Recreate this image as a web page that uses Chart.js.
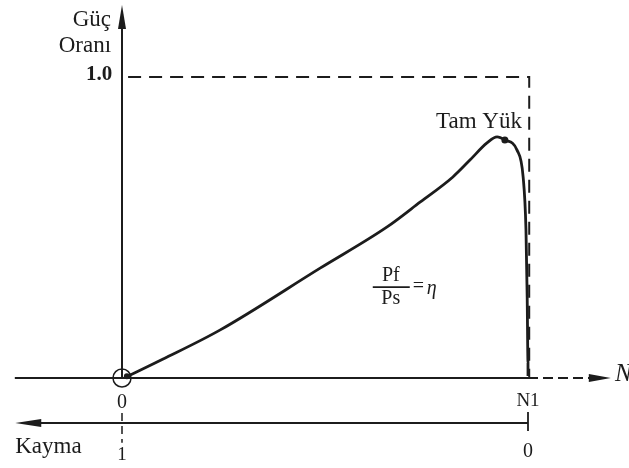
<!DOCTYPE html>
<html>
<head>
<meta charset="utf-8">
<script src="https://cdn.jsdelivr.net/npm/chart.js@4.4.1/dist/chart.umd.min.js"></script>
<style>
  html, body { margin: 0; padding: 0; background: #fff; overflow: hidden; }
</style>
</head>
<body>
<canvas id="powerChart" width="629" height="468"></canvas>
<script>
// güç oranı eğrisi (x: hız / N1, y: Pf/Ps)
const speedRatio = [0.015, 0.100, 0.241, 0.488, 0.653, 0.734, 0.815, 0.857, 0.899, 0.924, 0.943, 0.973, 0.988, 0.995, 0.998, 1.000, 1.000];
const powerRatio = [0.006, 0.062, 0.159, 0.365, 0.502, 0.584, 0.668, 0.724, 0.781, 0.801, 0.791, 0.757, 0.668, 0.492, 0.269, 0.050, 0.007];
const fullLoadIndex = 10;

// eksen etiketleri
const yAxisTitle = ['Güç', 'Oranı'];
const yTickLabel = '1.0';
const fullLoadLabel = 'Tam Yük';
const speedLabels = ['0', 'N1'];
const slipLabels = ['1', '0'];
const slipTitle = 'Kayma';
const speedAxisName = 'N';

const INK = '#1c1c1c';
const SERIF = '"Liberation Serif", "Times New Roman", serif';

function line(points, extra) {
  return Object.assign({
    data: points,
    showLine: true,
    borderColor: INK,
    borderWidth: 2,
    pointRadius: 0,
    fill: false
  }, extra || {});
}

const curve = speedRatio.map((x, i) => ({ x: x, y: powerRatio[i] }));

const datasets = [
  line(curve, { borderWidth: 2.8, cubicInterpolationMode: 'monotone' }),
  // tam yük noktası
  line([curve[fullLoadIndex]], { showLine: false, pointRadius: 3.5, pointBackgroundColor: INK, pointBorderWidth: 0 }),
  // orijin dairesi
  line([{ x: 0, y: 0 }], { showLine: false, pointRadius: 9, pointBackgroundColor: 'rgba(0,0,0,0)', pointBorderColor: INK, pointBorderWidth: 1.5 }),
  line([{ x: 0.012, y: 0.006 }], { showLine: false, pointRadius: 3, pointBackgroundColor: INK, pointBorderWidth: 0 }),
  // dikey eksen
  line([{ x: 0, y: 0 }, { x: 0, y: 1.2 }], { arrow: { tipY: 1.239, len: 24, half: 4 } }),
  // yatay eksen
  line([{ x: -0.264, y: 0 }, { x: 1, y: 0 }]),
  line([{ x: 1.0, y: 0 }, { x: 1.16, y: 0 }], { borderDash: [10, 5], arrow: { tipX: 1.204, len: 22, half: 4 } }),
  // 1.0 sınırı
  line([{ x: 0.015, y: 1 }, { x: 1.003, y: 1 }, { x: 1.003, y: 0 }], { borderDash: [13, 8], borderWidth: 2 }),
  // kayma ekseni
  line([{ x: 1, y: -0.1495 }, { x: -0.2, y: -0.1495 }], { borderWidth: 1.8, arrow: { tipX: -0.263, len: 26, half: 4 } }),
  line([{ x: 1, y: -0.113 }, { x: 1, y: -0.176 }], { borderWidth: 1.8 }),
  line([{ x: 0, y: -0.116 }, { x: 0, y: -0.215 }], { borderWidth: 1.5, borderDash: [8, 5] })
];

const texts = [
  { t: yAxisTitle[0], x: -0.027, y: 1.190, size: 23, align: 'right' },
  { t: yAxisTitle[1], x: -0.027, y: 1.103, size: 23, align: 'right' },
  { t: yTickLabel, x: -0.024, y: 1.008, size: 21, align: 'right', weight: 'bold' },
  { t: fullLoadLabel, x: 0.985, y: 0.850, size: 23, align: 'right' },
  { t: speedLabels[0], x: 0, y: -0.083, size: 20, align: 'center' },
  { t: speedLabels[1], x: 1.0, y: -0.076, size: 19, align: 'center' },
  { t: slipTitle, x: -0.263, y: -0.229, size: 23, align: 'left' },
  { t: slipLabels[0], x: 0, y: -0.256, size: 19, align: 'center' },
  { t: slipLabels[1], x: 1.0, y: -0.246, size: 20, align: 'center' },
  { t: speedAxisName, x: 1.214, y: 0.013, size: 25, align: 'left', style: 'italic' }
];

const arrowPlugin = {
  id: 'arrows',
  afterDatasetsDraw(chart) {
    const ctx = chart.ctx, sx = chart.scales.x, sy = chart.scales.y;
    chart.data.datasets.forEach(ds => {
      if (!ds.arrow) return;
      const pts = ds.data;
      const last = pts[pts.length - 1], prev = pts[pts.length - 2];
      const tx = sx.getPixelForValue(ds.arrow.tipX !== undefined ? ds.arrow.tipX : last.x);
      const ty = sy.getPixelForValue(ds.arrow.tipY !== undefined ? ds.arrow.tipY : last.y);
      const px = sx.getPixelForValue(prev.x), py = sy.getPixelForValue(prev.y);
      const a = Math.atan2(ty - py, tx - px);
      const bx = tx - Math.cos(a) * ds.arrow.len, by = ty - Math.sin(a) * ds.arrow.len;
      ctx.save();
      ctx.fillStyle = INK;
      ctx.strokeStyle = INK;
      ctx.lineWidth = ds.borderWidth;
      ctx.beginPath();
      ctx.moveTo(sx.getPixelForValue(last.x), sy.getPixelForValue(last.y));
      ctx.lineTo(bx, by);
      ctx.stroke();
      ctx.beginPath();
      ctx.moveTo(tx, ty);
      ctx.lineTo(bx - Math.sin(a) * ds.arrow.half, by + Math.cos(a) * ds.arrow.half);
      ctx.lineTo(bx + Math.sin(a) * ds.arrow.half, by - Math.cos(a) * ds.arrow.half);
      ctx.closePath();
      ctx.fill();
      ctx.restore();
    });
  }
};

const textPlugin = {
  id: 'labels',
  afterDraw(chart) {
    const ctx = chart.ctx, sx = chart.scales.x, sy = chart.scales.y;
    ctx.save();
    ctx.fillStyle = INK;
    ctx.textBaseline = 'middle';
    texts.forEach(o => {
      ctx.font = (o.style || 'normal') + ' ' + (o.weight || 'normal') + ' ' + o.size + 'px ' + SERIF;
      ctx.textAlign = o.align;
      ctx.fillText(o.t, sx.getPixelForValue(o.x), sy.getPixelForValue(o.y));
    });

    // Pf / Ps = η
    const cx = sx.getPixelForValue(0.662), cy = sy.getPixelForValue(0.302);
    ctx.font = '20px ' + SERIF;
    ctx.textAlign = 'center';
    ctx.fillText('Pf', cx, cy - 11);
    ctx.fillText('Ps', cx, cy + 12);
    ctx.lineWidth = 1.6;
    ctx.strokeStyle = INK;
    ctx.beginPath();
    ctx.moveTo(cx - 18, cy);
    ctx.lineTo(cx + 19, cy);
    ctx.stroke();
    ctx.textAlign = 'left';
    ctx.fillText('=', cx + 22, cy);
    ctx.font = 'italic 20px ' + SERIF;
    ctx.fillText('η', cx + 36, cy + 2);
    ctx.restore();
  }
};

const canvas = document.getElementById('powerChart');
new Chart(canvas.getContext('2d'), {
  type: 'scatter',
  data: { datasets: datasets },
  options: {
    responsive: false,
    animation: false,
    devicePixelRatio: 1,
    layout: { padding: 0, autoPadding: false },
    plugins: { legend: { display: false }, tooltip: { enabled: false } },
    scales: {
      x: { type: 'linear', display: false, min: -122 / 406, max: 507 / 406 },
      y: { type: 'linear', display: false, min: -90 / 301, max: 378 / 301 }
    }
  },
  plugins: [arrowPlugin, textPlugin]
});
</script>
</body>
</html>
